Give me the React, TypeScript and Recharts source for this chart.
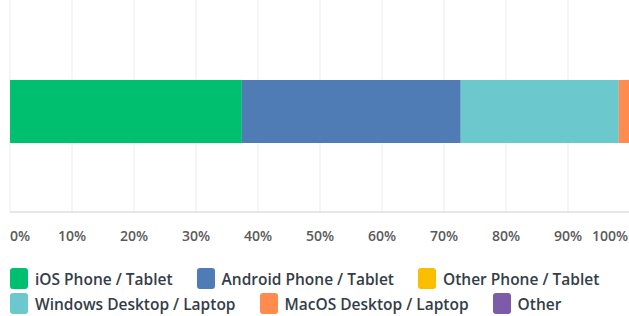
import { BarChart, Bar, XAxis, YAxis, CartesianGrid } from 'recharts';

const categories = ['Q1'];
const seriesNames = [
  'iOS Phone / Tablet',
  'Android Phone / Tablet',
  'Other Phone / Tablet',
  'Windows Desktop / Laptop',
  'MacOS Desktop / Laptop',
  'Other',
];
const seriesKeys = ['ios', 'android', 'otherPhone', 'windows', 'macos', 'other'];
const seriesValues = [37.4, 35.3, 0, 25.5, 1.8, 0];
const seriesColors = ['#00bf6f', '#507cb6', '#f9be00', '#6bc8cd', '#ff8b4f', '#7d5ba6'];
const xTicks = [0, 10, 20, 30, 40, 50, 60, 70, 80, 90, 100];

const data = categories.map((name) => {
  const row: Record<string, string | number> = { name };
  seriesKeys.forEach((k, i) => {
    row[k] = seriesValues[i];
  });
  return row;
});

const font = '"Open Sans", sans-serif';

function PercentTick({ x, y, payload, index }: any) {
  const last = xTicks.length - 1;
  const anchor = index === 0 ? 'start' : index === last ? 'end' : 'middle';
  const tx = index === last ? x - 2 : x;
  return (
    <text x={tx} y={y} dy={21} textAnchor={anchor} fill="#5a5a5a" fontSize={14} fontWeight={600} fontFamily={font}>
      {`${payload.value}%`}
    </text>
  );
}

function ChartLegend() {
  return (
    <div
      style={{
        position: 'absolute',
        left: 10,
        top: 268,
        width: 619,
        display: 'flex',
        flexWrap: 'wrap',
        columnGap: 24,
        rowGap: 4,
        fontFamily: font,
        fontSize: 15.5,
        fontWeight: 600,
        color: '#333e48',
      }}
    >
      {seriesNames.map((n, i) => (
        <div key={n} style={{ display: 'flex', alignItems: 'center', height: 21, whiteSpace: 'nowrap' }}>
          <span
            style={{
              width: 18,
              height: 21,
              borderRadius: 3,
              background: seriesColors[i],
              marginRight: 7,
              display: 'inline-block',
            }}
          />
          <span>{n}</span>
        </div>
      ))}
    </div>
  );
}

export default function App() {
  return (
    <div
      style={{
        position: 'fixed',
        left: 0,
        top: 0,
        width: 629,
        height: 316,
        overflow: 'hidden',
        background: '#fff',
      }}
    >
      <BarChart
        width={630}
        height={257}
        data={data}
        layout="vertical"
        margin={{ top: 0, right: 0, left: 10, bottom: 0 }}
        barSize={63}
      >
        <CartesianGrid horizontal={false} stroke="#ececec" />
        <XAxis
          type="number"
          domain={[0, 100]}
          ticks={xTicks}
          axisLine={{ stroke: '#d0d0d0' }}
          tickLine={false}
          tick={<PercentTick />}
          height={45}
          interval={0}
        />
        <YAxis
          type="category"
          dataKey="name"
          width={0}
          tick={false}
          tickLine={false}
          padding={{ top: 11, bottom: 0 }}
          axisLine={{ stroke: '#d8d8d8' }}
        />
        {seriesKeys.map((k, i) => (
          <Bar key={k} dataKey={k} stackId="a" fill={seriesColors[i]} isAnimationActive={false} />
        ))}
      </BarChart>
      <ChartLegend />
    </div>
  );
}
